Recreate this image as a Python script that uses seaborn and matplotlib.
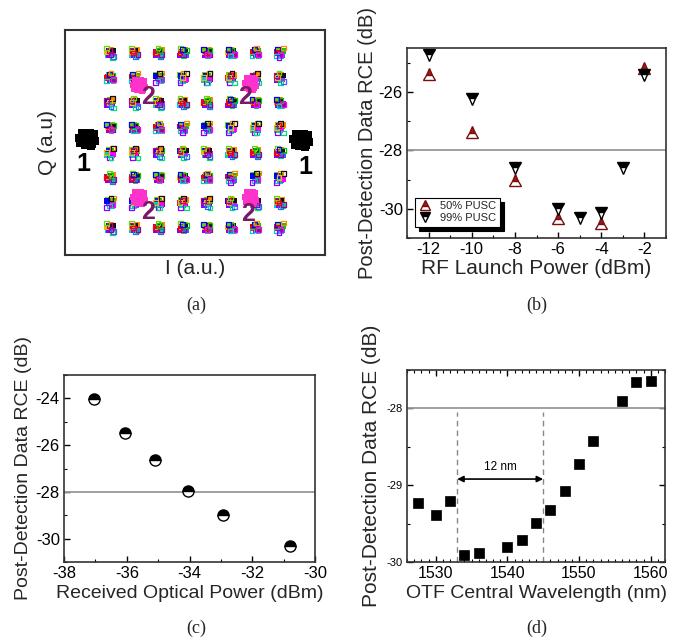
import numpy as np
import pandas as pd
import matplotlib
matplotlib.use("Agg")
import matplotlib.pyplot as plt
from matplotlib.ticker import MultipleLocator
import seaborn as sns

sns.set_theme(style="white")
plt.rcParams['font.family'] = ['Liberation Sans', 'DejaVu Sans']
plt.rcParams['axes.unicode_minus'] = False

# ---------------- data ----------------
# (a) constellation: 64-QAM grid levels, pilot (2) and preamble (1) positions
qam_levels = [-7, -5, -3, -1, 1, 3, 5, 7]
jit_dx = [0.0, 0.28, -0.22, 0.36, -0.32, 0.12, -0.12, 0.30, -0.38, 0.16, -0.05, 0.22, -0.26, 0.06]
jit_dy = [0.0, 0.20, 0.26, -0.10, -0.22, 0.36, -0.30, 0.30, 0.06, -0.36, 0.16, -0.26, 0.36, -0.12]
qam_colors = ['#ff0000', '#00cc00', '#0000ff', '#ff00ff', '#00cccc', '#ff8800', '#8800ff',
              '#111111', '#e6c000', '#00e07a', '#cc0066', '#3366ff', '#66dd00', '#990099']
pilot_I = [-4.6, 4.6, -4.6, 4.6]
pilot_Q = [4.4, 4.5, -4.6, -4.6]
pre_I = [-8.9, 8.8]
pre_Q = [0.1, 0.0]

# (b)
rf_50 = [-12, -10, -8, -6, -4, -2]
rce_50 = [-25.38, -27.36, -29.0, -30.32, -30.5, -25.17]
rf_99 = [-12, -10, -8, -6, -5, -4, -3, -2]
rce_99 = [-24.73, -26.25, -28.6, -30.0, -30.3, -30.15, -28.6, -25.42]

# (c)
rop = [-37.05, -36.05, -35.09, -34.04, -32.92, -30.81]
rce_c = [-24.03, -25.47, -26.64, -27.98, -29.0, -30.3]

# (d)
wl = [1527.5, 1530, 1532, 1534, 1536, 1540, 1542, 1544, 1546, 1548, 1550, 1552, 1556, 1558, 1560]
rce_d = [-29.23, -29.39, -29.21, -29.91, -29.88, -29.81, -29.71, -29.49, -29.32, -29.07,
         -28.73, -28.43, -27.90, -27.66, -27.64]
window_edges = [1533, 1545]

threshold = -28

# ---------------- figure ----------------
W, H = 673, 643
fig = plt.figure(figsize=(W / 100, H / 100), dpi=100)

def ax_px(l, t, r, b):
    return fig.add_axes([l / W, 1 - b / H, (r - l) / W, (b - t) / H])

axA = ax_px(65, 30, 325, 255)
axB = ax_px(407, 48, 666, 238)
axC = ax_px(64, 375, 315, 562)
axD = ax_px(407, 370, 665, 562)

TCK = 12

# ---------- (a) ----------
core, ring = [], []
k = 0
n = len(jit_dx)
for qi, Q in enumerate(qam_levels):
    for ii, I in enumerate(qam_levels):
        sgn = 1 if (k % 2 == 0) else -1
        for j in range(n):
            dx = jit_dx[j] * sgn
            dy = jit_dy[(j + k) % n]
            c = (j + k) % len(qam_colors)
            if j < 9:
                core.append((I + dx * 0.7, Q + dy * 0.7, c))
            else:
                ring.append((I + dx * 1.1, Q + dy * 1.1, c))
        k += 1
dfCore = pd.DataFrame(core, columns=["I", "Q", "c"])
dfRing = pd.DataFrame(ring, columns=["I", "Q", "c"])
sns.scatterplot(data=dfCore, x="I", y="Q", hue="c", palette=qam_colors, marker="s",
                s=16, linewidth=0, legend=False, ax=axA)
sns.scatterplot(data=dfRing, x="I", y="Q", hue="c", palette=qam_colors, marker="s",
                s=12, linewidth=0.9, legend=False, ax=axA)
coll = axA.collections[-1]
coll.set_edgecolors(coll.get_facecolors())
coll.set_facecolors("none")

# pilots (magenta) and preamble (black)
prow = []
for pI, pQ in zip(pilot_I, pilot_Q):
    for j in range(n):
        prow.append((pI + jit_dx[j] * 1.3, pQ + jit_dy[j] * 1.3))
dfP = pd.DataFrame(prow, columns=["I", "Q"])
sns.scatterplot(data=dfP, x="I", y="Q", color="#ff33cc", marker="s", s=22,
                linewidth=0, legend=False, ax=axA)
brow = []
for bI, bQ in zip(pre_I, pre_Q):
    for j in range(n):
        brow.append((bI + jit_dx[j] * 1.8, bQ + jit_dy[j] * 1.5))
dfB = pd.DataFrame(brow, columns=["I", "Q"])
sns.scatterplot(data=dfB, x="I", y="Q", color="black", marker="s", s=26,
                linewidth=0, legend=False, ax=axA)

axA.text(-9.2, -1.9, "1", fontsize=18, fontweight="bold", ha="center", va="center", color="black")
axA.text(9.1, -2.1, "1", fontsize=18, fontweight="bold", ha="center", va="center", color="black")
for (tx, ty) in [(-3.9, 3.5), (4.1, 3.5), (-3.9, -5.7), (4.4, -5.9)]:
    axA.text(tx, ty, "2", fontsize=18, fontweight="bold", ha="center", va="center", color="#7a1a66")

axA.set_xlim(-10.74, 10.74)
axA.set_ylim(-9.16, 8.84)
axA.set_xticks([])
axA.set_yticks([])
axA.set_xlabel("I (a.u.)", fontsize=15, labelpad=3)
axA.set_ylabel("Q (a.u)", fontsize=15, labelpad=6)
for s in axA.spines.values():
    s.set_color("#333333")
    s.set_linewidth(1.5)

# ---------- common styling ----------
def style_axes(ax, xmaj, xmin, ymaj, ymin, allsides=False):
    ax.xaxis.set_major_locator(MultipleLocator(xmaj))
    ax.xaxis.set_minor_locator(MultipleLocator(xmin))
    ax.yaxis.set_major_locator(MultipleLocator(ymaj))
    ax.yaxis.set_minor_locator(MultipleLocator(ymin))
    ax.tick_params(which="both", direction="in", bottom=True, left=True,
                   top=allsides, right=allsides, colors="black", labelsize=TCK)
    ax.tick_params(which="major", length=4, width=1, pad=3)
    ax.tick_params(which="minor", length=2.5, width=0.8)
    for s in ax.spines.values():
        s.set_color("#333333")
        s.set_linewidth(1.2)

# ---------- (b) ----------
dfb50 = pd.DataFrame({"x": rf_50, "y": rce_50})
dfb99 = pd.DataFrame({"x": rf_99, "y": rce_99})
axB.axhline(threshold, color="#999999", lw=1.3, zorder=1)
sns.lineplot(data=dfb50, x="x", y="y", ax=axB, color="#9e1a1a", linestyle="", marker="^",
             markersize=8, fillstyle="top", markerfacecoloralt="white",
             markeredgecolor="#7a0e0e", markeredgewidth=1.0, label="50% PUSC")
sns.lineplot(data=dfb99, x="x", y="y", ax=axB, color="black", linestyle="", marker="v",
             markersize=8, fillstyle="top", markerfacecoloralt="white",
             markeredgecolor="black", markeredgewidth=1.0, label="99% PUSC")
axB.set_xlim(-13, -1)
axB.set_ylim(-31, -24.5)
style_axes(axB, 2, 1, 2, 1)
axB.set_xlabel("RF Launch Power (dBm)", fontsize=15, labelpad=1)
axB.set_ylabel("Post-Detection Data RCE (dB)", fontsize=14.5, labelpad=1)
leg = axB.legend(loc="lower left", bbox_to_anchor=(0.03, 0.06), borderaxespad=0,
                 fontsize=8, frameon=True, fancybox=False, edgecolor="black",
                 handletextpad=0.8, borderpad=0.3, labelspacing=0.2, handlelength=1.2,
                 markerscale=0.85,
                 shadow={"color": "black", "alpha": 1, "ox": 3, "oy": -3})
leg.get_frame().set_linewidth(0.8)

# ---------- (c) ----------
dfc = pd.DataFrame({"x": rop, "y": rce_c})
axC.axhline(threshold, color="#999999", lw=1.3, zorder=1)
sns.lineplot(data=dfc, x="x", y="y", ax=axC, color="black", linestyle="", marker="o",
             markersize=8, fillstyle="top", markerfacecoloralt="white",
             markeredgecolor="black", markeredgewidth=1.0)
axC.set_xlim(-38, -30)
axC.set_ylim(-31, -23)
style_axes(axC, 2, 1, 2, 1)
axC.set_xlabel("Received Optical Power (dBm)", fontsize=14, labelpad=3)
axC.set_ylabel("Post-Detection Data RCE (dB)", fontsize=14, labelpad=3)

# ---------- (d) ----------
dfd = pd.DataFrame({"x": wl, "y": rce_d})
axD.axhline(threshold, color="#999999", lw=1.3, zorder=1)
axD.vlines(window_edges, -30, threshold - 0.05, colors="#888888", linestyles=(0, (4, 3)), lw=1.0)
sns.lineplot(data=dfd, x="x", y="y", ax=axD, color="black", linestyle="", marker="s",
             markersize=7, markeredgecolor="black", markeredgewidth=0.5)
axD.annotate("", xy=(window_edges[0], -28.92), xytext=(window_edges[1], -28.92),
             arrowprops=dict(arrowstyle="<|-|>", color="black", lw=1.2,
                             shrinkA=0, shrinkB=0, mutation_scale=9))
axD.text((window_edges[0] + window_edges[1]) / 2, -28.84, "12 nm", fontsize=8.5,
         ha="center", va="bottom", color="black")
axD.set_xlim(1526, 1562)
axD.set_ylim(-30, -27.5)
style_axes(axD, 10, 1, 1, 0.5, allsides=True)
axD.tick_params(axis="x", labelsize=11.5)
axD.tick_params(axis="y", labelsize=8)
axD.set_xlabel("OTF Central Wavelength (nm)", fontsize=14, labelpad=3)
axD.set_ylabel("Post-Detection Data RCE (dB)", fontsize=15, labelpad=4)

# panel labels
for txt, x, y in [("(a)", 196, 305), ("(b)", 537, 305), ("(c)", 196, 628), ("(d)", 537, 628)]:
    fig.text(x / W, 1 - y / H, txt, fontsize=13, family=["Liberation Serif", "DejaVu Serif"],
             ha="center", va="center")

fig.savefig("out.png", dpi=100)
